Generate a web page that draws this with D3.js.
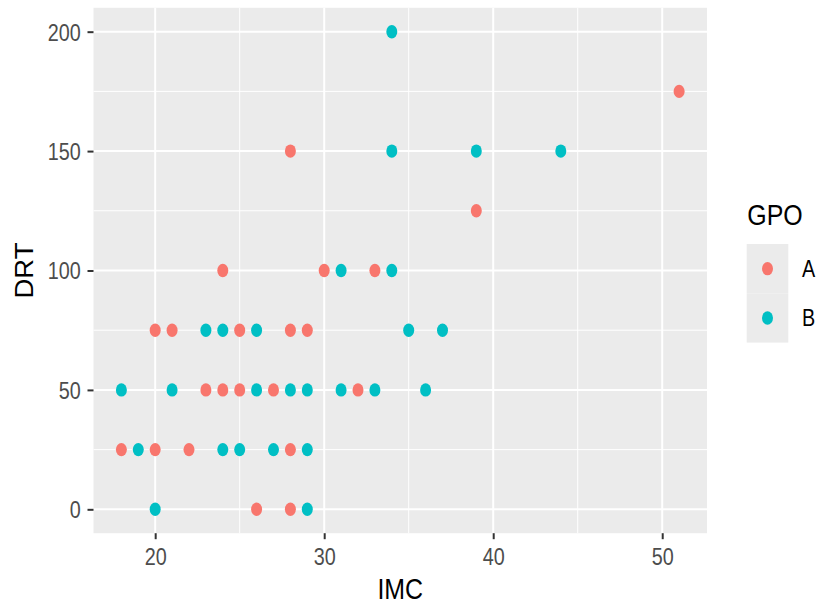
<!DOCTYPE html>
<html><head><meta charset="utf-8">
<script src="https://cdn.jsdelivr.net/npm/d3@7"></script>
<style>body{margin:0;background:#fff}svg{display:block}</style>
</head><body>
<script>
// Group A
const imcA = [51, 28, 39, 24, 30, 33, 20, 21, 25, 28, 29, 23, 24, 25, 27, 32, 18, 20, 22, 28, 26, 28];
const drtA = [175, 150, 125, 100, 100, 100, 75, 75, 75, 75, 75, 50, 50, 50, 50, 50, 25, 25, 25, 25, 0, 0];
// Group B
const imcB = [34, 34, 39, 44, 31, 34, 23, 24, 26, 35, 37, 18, 21, 26, 28, 29, 31, 33, 36, 19, 24, 25, 27, 29, 20, 29];
const drtB = [200, 150, 150, 150, 100, 100, 75, 75, 75, 75, 75, 50, 50, 50, 50, 50, 50, 50, 50, 25, 25, 25, 25, 25, 0, 0];
const groups = ["A", "B"];
const colors = ["#F8766D", "#00BFC4"];
const xTicks = [20, 30, 40, 50];
const xMinor = [25, 35, 45];
const yTicks = [0, 50, 100, 150, 200];
const yMinor = [25, 75, 125, 175];

const W = 822, H = 611;
const P = {l: 93.5, r: 707, t: 7.8, b: 533.2};
const SX = 0.86;
const svg = d3.select("body").append("svg").attr("width", W).attr("height", H);

const x = d3.scaleLinear().domain([16.35, 52.65]).range([P.l, P.r]);
const y = d3.scaleLinear().domain([-10, 210]).range([P.b, P.t]);

svg.append("rect").attr("x", P.l).attr("y", P.t).attr("width", P.r - P.l).attr("height", P.b - P.t).attr("fill", "#EBEBEB");

const grid = svg.append("g");
grid.selectAll(".xm").data(xMinor).join("line").attr("x1", d => x(d)).attr("x2", d => x(d)).attr("y1", P.t).attr("y2", P.b).attr("stroke", "#fff").attr("stroke-width", 1);
grid.selectAll(".ym").data(yMinor).join("line").attr("y1", d => y(d)).attr("y2", d => y(d)).attr("x1", P.l).attr("x2", P.r).attr("stroke", "#fff").attr("stroke-width", 1);
grid.selectAll(".xM").data(xTicks).join("line").attr("x1", d => x(d)).attr("x2", d => x(d)).attr("y1", P.t).attr("y2", P.b).attr("stroke", "#fff").attr("stroke-width", 2);
grid.selectAll(".yM").data(yTicks).join("line").attr("y1", d => y(d)).attr("y2", d => y(d)).attr("x1", P.l).attr("x2", P.r).attr("stroke", "#fff").attr("stroke-width", 2);

// points
const ptsA = imcA.map((v, i) => ({x: v, y: drtA[i], g: 0}));
const ptsB = imcB.map((v, i) => ({x: v, y: drtB[i], g: 1}));
svg.append("g").selectAll("ellipse").data(ptsA.concat(ptsB)).join("ellipse")
  .attr("cx", d => x(d.x)).attr("cy", d => y(d.y)).attr("rx", 5.5).attr("ry", 6.7)
  .attr("fill", d => colors[d.g]);

// axes
const xa = svg.append("g").attr("transform", `translate(0,${P.b})`)
  .call(d3.axisBottom(x).tickValues(xTicks).tickSize(6).tickFormat(d3.format("d")));
const ya = svg.append("g").attr("transform", `translate(${P.l},0)`)
  .call(d3.axisLeft(y).tickValues(yTicks).tickSize(6).tickFormat(d3.format("d")));
[xa, ya].forEach(a => {
  a.select(".domain").remove();
  a.selectAll(".tick line").attr("stroke", "#333333").attr("stroke-width", 2);
  a.selectAll(".tick text").attr("fill", "#4D4D4D").attr("font-family", "Liberation Sans, Arial, sans-serif").attr("font-size", 23);
});
xa.selectAll(".tick text").attr("dy", null).attr("y", 0).attr("x", 0)
  .attr("text-anchor", "middle").attr("transform", `translate(0,31.8) scale(${SX},1)`);
ya.selectAll(".tick text").attr("dy", null).attr("y", 0).attr("x", 0)
  .attr("text-anchor", "end").attr("transform", `translate(-12.8,8.4) scale(${SX},1)`);

const ff = "Liberation Sans, Arial, sans-serif";
svg.append("text").attr("transform", `translate(${(P.l + P.r) / 2},599) scale(${SX},1)`)
  .attr("text-anchor", "middle").attr("font-family", ff).attr("font-size", 29).attr("fill", "#000").text("IMC");
svg.append("text").attr("transform", `translate(33.3,${(P.t + P.b) / 2}) rotate(-90) scale(0.95,${SX + 0.02})`)
  .attr("text-anchor", "middle").attr("font-family", ff).attr("font-size", 29).attr("fill", "#000").text("DRT");

// legend
const lg = svg.append("g");
lg.append("text").attr("transform", `translate(747.3,225) scale(${SX},1)`)
  .attr("font-family", ff).attr("font-size", 29).attr("fill", "#000").text("GPO");
const keyH = 49.3, keyW = 41.6, keyX = 746.7, keyY = 244;
groups.forEach((g, i) => {
  lg.append("rect").attr("x", keyX).attr("y", keyY + i * keyH).attr("width", keyW).attr("height", keyH).attr("fill", "#EBEBEB");
  lg.append("ellipse").attr("cx", keyX + keyW / 2).attr("cy", keyY + i * keyH + keyH / 2).attr("rx", 5.5).attr("ry", 6.7).attr("fill", colors[i]);
  lg.append("text").attr("transform", `translate(802,${keyY + i * keyH + keyH / 2 + 8.4}) scale(${SX},1)`)
    .attr("font-family", ff).attr("font-size", 23).attr("fill", "#000").text(g);
});
</script>
</body></html>
